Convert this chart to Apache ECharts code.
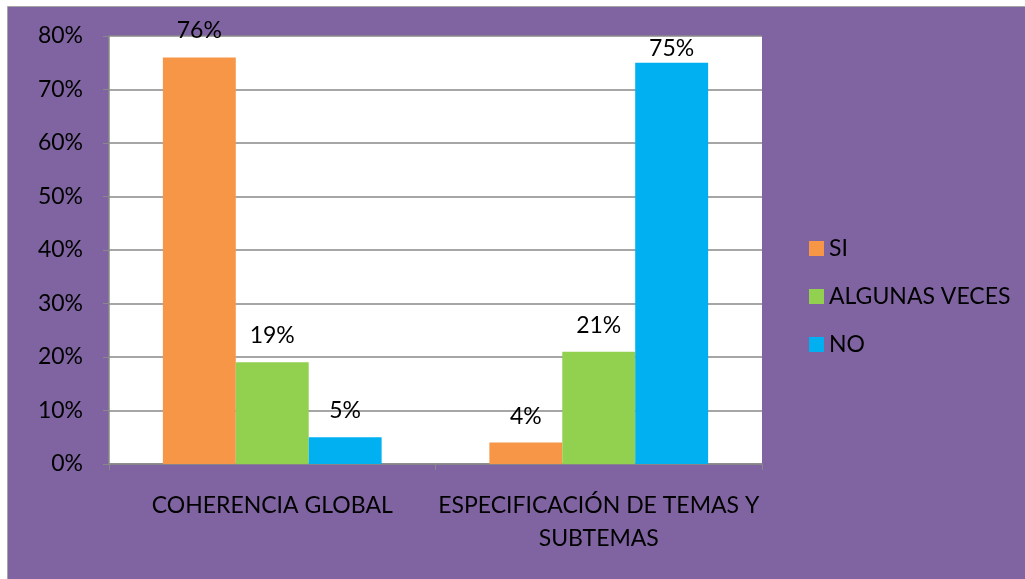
<!DOCTYPE html>
<html><head><meta charset="utf-8">
<script src="https://cdn.jsdelivr.net/npm/echarts@6/dist/echarts.min.js"></script>
<style>html,body{margin:0;padding:0;background:#fff}#c{width:1025px;height:579px}</style>
</head><body><div id="c"></div>
<script>
const categories = ['COHERENCIA GLOBAL', 'ESPECIFICACIÓN DE TEMAS Y\nSUBTEMAS'];
const seriesNames = ['SI', 'ALGUNAS VECES', 'NO'];
const siValues = [76, 4];
const algunasValues = [19, 21];
const noValues = [5, 75];
const yTicks = [0, 10, 20, 30, 40, 50, 60, 70, 80];

const FONT = 'Lato';
const FS = 23;
const colors = ['#F79646', '#92D050', '#00B0F0'];
const chart = echarts.init(document.getElementById('c'), null, {renderer: 'canvas'});
const labelStyle = {show: true, position: 'top', distance: 15, formatter: p => p.value + '%',
  color: '#000', fontFamily: FONT, fontSize: FS};
const mkSeries = (name, data, color) => ({
  name, type: 'bar', barGap: '0%', barCategoryGap: '33%',
  // the tall 75% label sits closer to its bar in the reference
  data: data.map(v => v === 75 ? {value: v, label: {distance: 3}} : v),
  itemStyle: {color},
  label: labelStyle
});
chart.setOption({
  animation: false,
  backgroundColor: '#fff',
  textStyle: {fontFamily: FONT},
  graphic: [{type: 'rect', z: -10, silent: true,
    shape: {x: 7.5, y: 6.5, width: 1030, height: 590},
    style: {fill: '#8064A2', stroke: '#a6a6a6', lineWidth: 1}}],
  grid: {left: 109, right: 263, top: 36, bottom: 115, show: true, backgroundColor: '#fff', borderWidth: 0},
  legend: {orient: 'vertical', left: 804, top: 232, itemWidth: 15, itemHeight: 15, itemGap: 25,
    icon: 'rect', data: seriesNames,
    textStyle: {color: '#000', fontFamily: FONT, fontSize: FS, lineHeight: 20}},
  xAxis: {type: 'category', data: categories,
    axisLine: {lineStyle: {color: '#888', width: 1.5}},
    axisTick: {show: true, length: 6, lineStyle: {color: '#888'}},
    axisLabel: {color: '#000', fontFamily: FONT, fontSize: FS, lineHeight: 33, margin: 25, interval: 0}},
  yAxis: {type: 'value', min: yTicks[0], max: yTicks[yTicks.length - 1], interval: 10,
    axisLine: {show: true, lineStyle: {color: '#888', width: 1.5}},
    axisTick: {show: true, length: 6, lineStyle: {color: '#888'}},
    splitLine: {lineStyle: {color: '#888', width: 1.5}},
    axisLabel: {color: '#000', fontFamily: FONT, fontSize: FS, margin: 26, formatter: v => v + '%'}},
  series: [mkSeries(seriesNames[0], siValues, colors[0]),
           mkSeries(seriesNames[1], algunasValues, colors[1]),
           mkSeries(seriesNames[2], noValues, colors[2])]
});
</script></body></html>
